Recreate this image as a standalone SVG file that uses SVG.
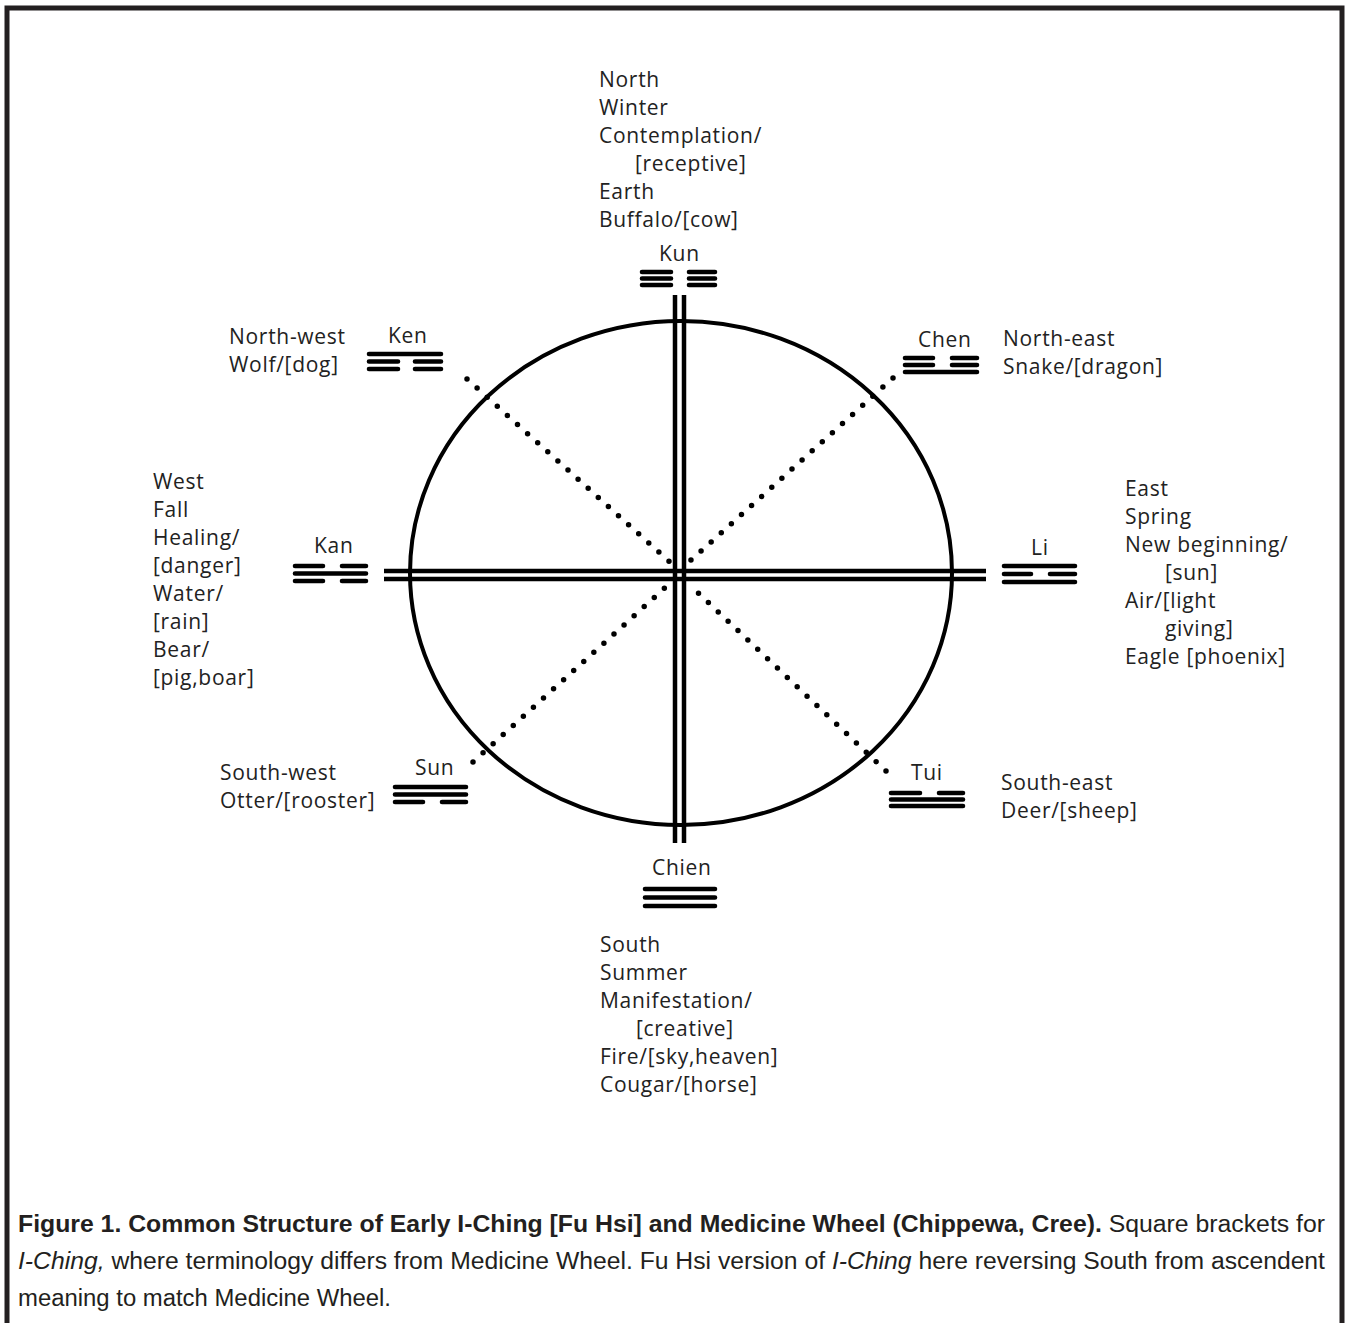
<svg xmlns="http://www.w3.org/2000/svg" width="1347" height="1323" viewBox="0 0 1347 1323">
<style>
.lbl{font-family:"Open Sans","DejaVu Sans",sans-serif;font-size:21px;letter-spacing:0.7px;fill:#222}
.bar{stroke:#000;stroke-width:4.6;stroke-linecap:round;fill:none}
.dbl{stroke:#000;stroke-width:4.5;fill:none}
.dot{stroke:#000;stroke-width:5.5;stroke-linecap:round;stroke-dasharray:0 13.6;fill:none}
.cap{font-family:"Liberation Sans Narrow","Arial Narrow","Liberation Sans",sans-serif;font-size:23px;fill:#231f20}
</style>
<rect width="1347" height="1323" fill="#fff"/>
<path d="M7,1323 V8 H1342 V1323" fill="none" stroke="#231f20" stroke-width="5"/>

<g id="wheel">
<ellipse cx="681" cy="573" rx="271" ry="252" fill="none" stroke="#000" stroke-width="4"/>
</g>

<g id="connectors">
<line class="dbl" x1="675" y1="295" x2="675" y2="843"/>
<line class="dbl" x1="684" y1="295" x2="684" y2="843"/>
<line class="dbl" x1="384" y1="571" x2="986" y2="571"/>
<line class="dbl" x1="384" y1="579" x2="986" y2="579"/>
<line class="dot" x1="467" y1="379" x2="671" y2="563"/>
<line class="dot" x1="893" y1="378" x2="690" y2="561"/>
<line class="dot" x1="473" y1="762" x2="668" y2="585"/>
<line class="dot" x1="886" y1="771" x2="692" y2="587"/>
</g>

<g id="north">
<text class="lbl" x="599" y="87">North</text>
<text class="lbl" x="599" y="115">Winter</text>
<text class="lbl" x="599" y="143">Contemplation/</text>
<text class="lbl" x="635" y="171">[receptive]</text>
<text class="lbl" x="599" y="199">Earth</text>
<text class="lbl" x="599" y="227">Buffalo/[cow]</text>
<text class="lbl" x="659" y="261">Kun</text>
<path class="bar" d="M642,272H671M689,272H715M642,278.5H671M689,278.5H715M642,285H671M689,285H715"/>
</g>

<g id="northwest">
<text class="lbl" x="229" y="344">North-west</text>
<text class="lbl" x="229" y="372">Wolf/[dog]</text>
<text class="lbl" x="388" y="343">Ken</text>
<path class="bar" d="M369,354H441M369,361.5H398M415,361.5H441M369,369H398M415,369H441"/>
</g>

<g id="northeast">
<text class="lbl" x="918" y="347">Chen</text>
<text class="lbl" x="1003" y="346">North-east</text>
<text class="lbl" x="1003" y="374">Snake/[dragon]</text>
<path class="bar" d="M905,358H933M952,358H977M905,365H933M952,365H977M905,372H977"/>
</g>

<g id="west">
<text class="lbl" x="153" y="489">West</text>
<text class="lbl" x="153" y="517">Fall</text>
<text class="lbl" x="153" y="545">Healing/</text>
<text class="lbl" x="153" y="573">[danger]</text>
<text class="lbl" x="153" y="601">Water/</text>
<text class="lbl" x="153" y="629">[rain]</text>
<text class="lbl" x="153" y="657">Bear/</text>
<text class="lbl" x="153" y="685">[pig,boar]</text>
<text class="lbl" x="314" y="553">Kan</text>
<path class="bar" d="M295,566H323M342,566H366M295,573.5H366M295,581H323M342,581H366"/>
</g>

<g id="east">
<text class="lbl" x="1125" y="496">East</text>
<text class="lbl" x="1125" y="524">Spring</text>
<text class="lbl" x="1125" y="552">New beginning/</text>
<text class="lbl" x="1165" y="580">[sun]</text>
<text class="lbl" x="1125" y="608">Air/[light</text>
<text class="lbl" x="1165" y="636">giving]</text>
<text class="lbl" x="1125" y="664">Eagle [phoenix]</text>
<text class="lbl" x="1031" y="555">Li</text>
<path class="bar" d="M1004,566H1075M1004,574H1031M1050,574H1075M1004,582H1075"/>
</g>

<g id="southwest">
<text class="lbl" x="220" y="780">South-west</text>
<text class="lbl" x="220" y="808">Otter/[rooster]</text>
<text class="lbl" x="415" y="775">Sun</text>
<path class="bar" d="M395,787H466M395,794.5H466M395,802H423M442,802H466"/>
</g>

<g id="southeast">
<text class="lbl" x="911" y="780">Tui</text>
<text class="lbl" x="1001" y="790">South-east</text>
<text class="lbl" x="1001" y="818">Deer/[sheep]</text>
<path class="bar" d="M891,793H920M939,793H963M891,799.5H963M891,806H963"/>
</g>

<g id="south">
<text class="lbl" x="652" y="875">Chien</text>
<path class="bar" d="M645,889H715M645,897.5H715M645,906H715"/>
<text class="lbl" x="600" y="952">South</text>
<text class="lbl" x="600" y="980">Summer</text>
<text class="lbl" x="600" y="1008">Manifestation/</text>
<text class="lbl" x="636" y="1036">[creative]</text>
<text class="lbl" x="600" y="1064">Fire/[sky,heaven]</text>
<text class="lbl" x="600" y="1092">Cougar/[horse]</text>
</g>

<g id="caption">
<text class="cap" x="18" y="1232" textLength="1307" lengthAdjust="spacingAndGlyphs"><tspan font-weight="bold">Figure 1. Common Structure of Early I-Ching [Fu Hsi] and Medicine Wheel (Chippewa, Cree).</tspan> Square brackets for</text>
<text class="cap" x="18" y="1269" textLength="1307" lengthAdjust="spacingAndGlyphs"><tspan font-style="italic">I-Ching,</tspan> where terminology differs from Medicine Wheel. Fu Hsi version of <tspan font-style="italic">I-Ching</tspan> here reversing South from ascendent</text>
<text class="cap" x="18" y="1306" textLength="373" lengthAdjust="spacingAndGlyphs">meaning to match Medicine Wheel.</text>
</g>
</svg>
